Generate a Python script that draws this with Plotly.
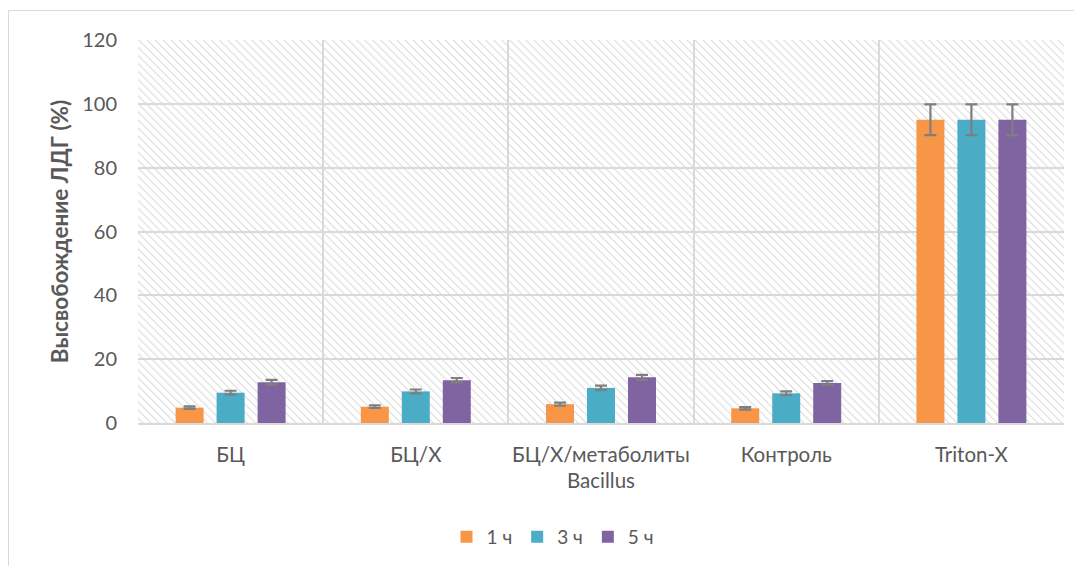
import base64
import plotly.graph_objects as go

categories = ["БЦ", "БЦ/Х", "БЦ/Х/метаболиты<br>Bacillus", "Контроль", "Triton-X"]
series_names = ["1 ч", "3 ч", "5 ч"]
values_1h = [4.8, 5.1, 5.9, 4.6, 95.0]
values_3h = [9.5, 9.9, 11.0, 9.3, 95.0]
values_5h = [12.8, 13.4, 14.3, 12.5, 95.0]
err_1h = [0.4, 0.4, 0.5, 0.4, 4.8]
err_3h = [0.6, 0.6, 0.7, 0.6, 4.8]
err_5h = [0.7, 0.7, 0.8, 0.6, 4.8]
colors = ["#F79646", "#4BACC6", "#8064A2"]

W, H = 1082, 566
L, R, T, B = 130, 26, 32, 151
pw, ph = W - L - R, H - T - B

font_family = "Lato, 'Open Sans', sans-serif"
text_color = "#595959"

# hatched background for plot area
svg = (
    f'<svg xmlns="http://www.w3.org/2000/svg" width="{pw}" height="{ph}">'
    '<defs><pattern id="p" width="5.7" height="5.7" patternUnits="userSpaceOnUse" '
    'patternTransform="rotate(-45)">'
    '<rect width="5.7" height="5.7" fill="white"/>'
    '<line x1="0" y1="0" x2="0" y2="5.7" stroke="#DCDCDC" stroke-width="2.2"/>'
    '</pattern></defs>'
    f'<rect width="{pw}" height="{ph}" fill="url(#p)"/></svg>'
)
src = "data:image/svg+xml;base64," + base64.b64encode(svg.encode()).decode()


def px_x(fx):
    return (fx - L) / pw


def px_y(fy):
    return 1 - (fy - T) / ph


fig = go.Figure()
for name, vals, errs, col in zip(series_names, [values_1h, values_3h, values_5h],
                                  [err_1h, err_3h, err_5h], colors):
    fig.add_trace(go.Bar(
        x=categories, y=vals, name=name,
        marker=dict(color=col, line=dict(width=0)),
        error_y=dict(type="data", array=errs, visible=True,
                     color="#7F7F7F", thickness=2.2, width=6),
    ))

fig.update_layout(
    width=W, height=H,
    margin=dict(l=L, r=R, t=T, b=B, autoexpand=False),
    paper_bgcolor="white",
    plot_bgcolor="rgba(0,0,0,0)",
    barmode="group",
    bargap=0.336,
    bargroupgap=0.317,
    font=dict(family=font_family, size=18, color=text_color),
    legend=dict(orientation="h", x=px_x(545), xanchor="center", y=px_y(529), yanchor="middle",
                font=dict(size=19, color=text_color), itemwidth=30,
                traceorder="normal"),
    images=[dict(source=src, xref="paper", yref="paper", x=0, y=1,
                 sizex=1, sizey=1, sizing="stretch", layer="below")],
    shapes=[dict(type="rect", xref="paper", yref="paper",
                 x0=px_x(0.5), x1=px_x(1100), y0=px_y(580), y1=px_y(2.5),
                 line=dict(color="#D9D9D9", width=1), fillcolor="rgba(0,0,0,0)",
                 layer="below")],
)

fig.update_xaxes(
    type="category", tickson="boundaries", showgrid=True, gridcolor="#D9D9D9",
    gridwidth=1.5, ticks="", showline=True, linecolor="#D9D9D9", linewidth=2,
    tickangle=0, automargin=False,
    tickfont=dict(size=20.5, color=text_color), ticklabelstandoff=12,
)
fig.update_yaxes(
    range=[0, 120], dtick=20, showgrid=True, gridcolor="#D9D9D9", gridwidth=1.5,
    zeroline=False, ticks="", showline=False, automargin=False,
    tickfont=dict(size=20, color=text_color), ticklabelstandoff=20,
    title=dict(text="<b>Высвобождение ЛДГ (%)</b>", font=dict(size=22.5, color=text_color),
               standoff=7),
)

fig.write_html("out.html")
